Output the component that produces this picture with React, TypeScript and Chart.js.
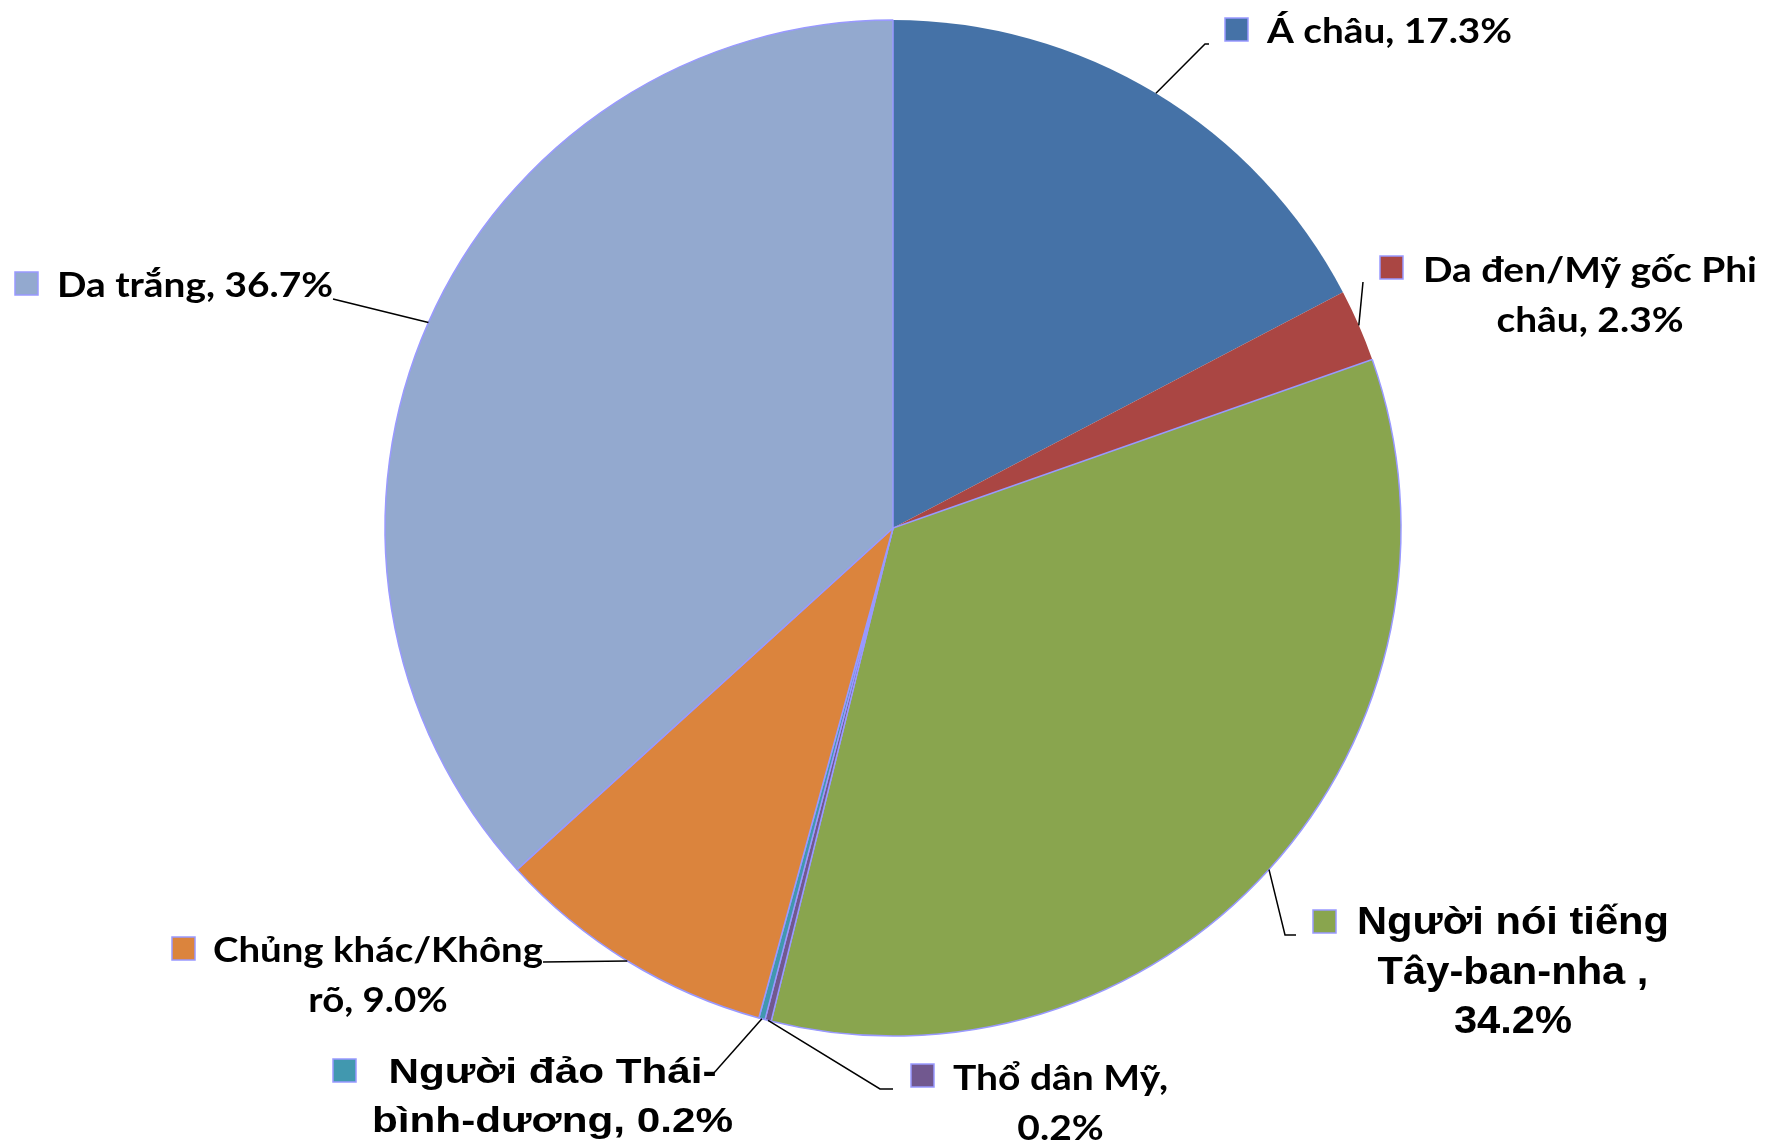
import React, { useEffect, useRef } from "react";
import { Chart, registerables } from "chart.js";

Chart.register(...registerables);

// ---- data ----
const categories = [
  "Á châu",
  "Da đen/Mỹ gốc Phi châu",
  "Người nói tiếng Tây-ban-nha ",
  "Thổ dân Mỹ",
  "Người đảo Thái-bình-dương",
  "Chủng khác/Không rõ",
  "Da trắng",
];
const shares = [17.3, 2.3, 34.2, 0.2, 0.2, 9.0, 36.7];
const sliceColors = ["#4572A7", "#AA4643", "#89A54E", "#71588F", "#4198AF", "#DB843D", "#93A9CF"];
const sliceBorderWidths = [0, 0, 1.5, 1.5, 1.5, 1.5, 1.5];

// ---- label layout (pixels) ----
const CAL = "bold 34px Lato, 'Open Sans', sans-serif";
const ARIAL_G = "bold 38px 'Liberation Sans', Arial, sans-serif";
const ARIAL_P = "bold 35px 'Liberation Sans', Arial, sans-serif";
type LabelLayout = {
  font: string;
  breakAfter: string[];
  cx: number;
  base: number;
  lh: number;
  fit: [number, number];
  marker: [number, number];
  leader: [number, number][];
};
const labelLayouts: LabelLayout[] = [
  { font: CAL, breakAfter: [], cx: 1389.5, base: 43, lh: 50, fit: [0, 245], marker: [1225, 18], leader: [[1205, 44], [1209, 44]] },
  { font: CAL, breakAfter: ["Phi"], cx: 1590, base: 282, lh: 50, fit: [0, 334], marker: [1380, 256], leader: [[1363, 282]] },
  { font: ARIAL_G, breakAfter: ["tiếng", "nha ,"], cx: 1513, base: 934, lh: 49.5, fit: [0, 312], marker: [1313, 910], leader: [[1285, 935], [1296, 935]] },
  { font: CAL, breakAfter: ["Mỹ,"], cx: 1060.5, base: 1090, lh: 50, fit: [0, 215], marker: [911, 1064], leader: [[880, 1089], [893, 1089]] },
  { font: ARIAL_P, breakAfter: ["Thái-"], cx: 552.5, base: 1083, lh: 49, fit: [1, 361], marker: [333, 1059], leader: [[713, 1074]] },
  { font: CAL, breakAfter: ["Không"], cx: 378, base: 962, lh: 50, fit: [0, 330], marker: [172, 937], leader: [[543, 962]] },
  { font: CAL, breakAfter: [], cx: 195, base: 297, lh: 50, fit: [0, 276], marker: [15, 272], leader: [[333, 299]] },
];
const MARKER = 23;

function splitLines(text: string, tokens: string[]): string[] {
  const out: string[] = [];
  let rest = text;
  for (const t of tokens) {
    const idx = rest.indexOf(t);
    if (idx < 0) continue;
    out.push(rest.slice(0, idx + t.length).trim());
    rest = rest.slice(idx + t.length);
  }
  out.push(rest.trim());
  return out;
}

const labelPlugin = {
  id: "pieLabels",
  afterDatasetsDraw(chart: any) {
    const ctx = chart.ctx as CanvasRenderingContext2D;
    const meta = chart.getDatasetMeta(0);
    meta.data.forEach((arc: any, i: number) => {
      const L = labelLayouts[i];
      if (!L) return;
      const mid = (arc.startAngle + arc.endAngle) / 2;
      const ax = arc.x + Math.cos(mid) * arc.outerRadius;
      const ay = arc.y + Math.sin(mid) * arc.outerRadius;
      // leader
      ctx.save();
      ctx.strokeStyle = "#000";
      ctx.lineWidth = 1.5;
      ctx.beginPath();
      ctx.moveTo(ax, ay);
      L.leader.forEach(([x, y]) => ctx.lineTo(x, y));
      ctx.stroke();
      ctx.restore();
      // marker
      ctx.save();
      ctx.fillStyle = sliceColors[i];
      ctx.fillRect(L.marker[0], L.marker[1], MARKER, MARKER);
      ctx.strokeStyle = "#9999FF";
      ctx.lineWidth = 1.5;
      ctx.strokeRect(L.marker[0], L.marker[1], MARKER, MARKER);
      ctx.restore();
      // text
      const label = `${categories[i]}, ${shares[i].toFixed(1)}%`;
      const lines = splitLines(label, L.breakAfter);
      ctx.save();
      ctx.font = L.font;
      ctx.fillStyle = "#000";
      ctx.textAlign = "center";
      ctx.textBaseline = "alphabetic";
      const w = ctx.measureText(lines[L.fit[0]]).width;
      const s = w > 0 ? L.fit[1] / w : 1;
      lines.forEach((ln, k) => {
        ctx.save();
        ctx.translate(L.cx, L.base + k * L.lh);
        ctx.scale(s, 1);
        ctx.fillText(ln, 0, 0);
        ctx.restore();
      });
      ctx.restore();
    });
  },
};

export default function App() {
  const ref = useRef<HTMLCanvasElement | null>(null);
  useEffect(() => {
    if (!ref.current) return;
    const chart = new Chart(ref.current, {
      type: "pie",
      data: {
        labels: categories,
        datasets: [
          {
            data: shares,
            backgroundColor: sliceColors,
            borderColor: "#9999FF",
            borderWidth: sliceBorderWidths,
            hoverOffset: 0,
            offset: 0,
          },
        ],
      },
      options: {
        responsive: false,
        animation: false,
        devicePixelRatio: 1,
        radius: 508,
        layout: { padding: { left: 385, right: 372, top: 20, bottom: 108 } },
        plugins: { legend: { display: false }, tooltip: { enabled: false } },
        events: [],
      } as any,
      plugins: [labelPlugin],
    });
    return () => chart.destroy();
  }, []);
  return (
    <div style={{ position: "fixed", left: 0, top: 0, width: 1773, height: 1144, background: "#fff" }}>
      <canvas ref={ref} width={1773} height={1144} style={{ display: "block" }} />
    </div>
  );
}
